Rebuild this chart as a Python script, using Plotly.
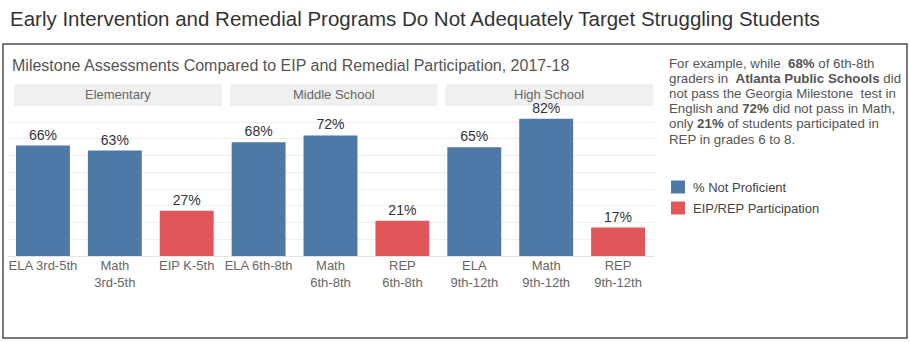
import plotly.graph_objects as go

# Categories (tick labels), values and series membership
tick_labels = [
    "ELA 3rd-5th", "Math<br>3rd-5th", "EIP K-5th",
    "ELA 6th-8th", "Math<br>6th-8th", "REP<br>6th-8th",
    "ELA<br>9th-12th", "Math<br>9th-12th", "REP<br>9th-12th",
]
values = [66, 63, 27, 68, 72, 21, 65, 82, 17]
is_participation = [False, False, True, False, False, True, False, False, True]

groups = ["Elementary", "Middle School", "High School"]
group_spans = [(0, 2), (3, 5), (6, 8)]

series_names = ["% Not Proficient", "EIP/REP Participation"]
series_colors = ["#4e79a7", "#e15759"]

note_lines = [
    "For example, while  <b>68%</b> of 6th-8th",
    "graders in  <b>Atlanta Public Schools</b> did",
    "not pass the Georgia Milestone  test in",
    "English and <b>72%</b> did not pass in Math,",
    "only <b>21%</b> of students participated in",
    "REP in grades 6 to 8.",
]

FONT = "Liberation Sans, Arial, sans-serif"
W, H = 910, 342
ML, MR, MT, MB = 7, 256, 107, 86
PW = W - ML - MR
PH = H - MT - MB


def px_x(px):
    return (px - ML) / PW


def px_y(py):
    return (H - MB - py) / PH


positions = list(range(len(tick_labels)))

fig = go.Figure()
for s, (name, color) in enumerate(zip(series_names, series_colors)):
    xs = [p for p, flag in zip(positions, is_participation) if flag == bool(s)]
    ys = [v for v, flag in zip(values, is_participation) if flag == bool(s)]
    fig.add_trace(go.Bar(
        x=xs, y=ys, name=name, width=0.75, showlegend=False,
        marker=dict(color=color, line=dict(width=0)),
        text=[f"{v}%" for v in ys], textposition="outside",
        textfont=dict(family=FONT, size=14, color="#333333"),
        cliponaxis=False,
    ))

shapes = []
annotations = []

# Panel header strips
for g, (a, b) in zip(groups, group_spans):
    x0, x1 = a - 0.4, b + 0.49
    shapes.append(dict(type="rect", xref="x", yref="paper",
                       x0=x0, x1=x1, y0=px_y(106), y1=px_y(84),
                       fillcolor="#f0f0f0", line=dict(width=0), layer="below"))
    annotations.append(dict(text=g, xref="x", yref="paper",
                            x=(x0 + x1) / 2, y=px_y(95), showarrow=False,
                            xanchor="center", yanchor="middle",
                            font=dict(family=FONT, size=13, color="#666666")))

# Outer frame
shapes.append(dict(type="rect", xref="paper", yref="paper",
                   x0=px_x(3), x1=px_x(907), y0=px_y(338), y1=px_y(44),
                   line=dict(color="#4d4d4d", width=1.5), layer="below"))

annotations.append(dict(
    text="Early Intervention and Remedial Programs Do Not Adequately Target Struggling Students",
    xref="paper", yref="paper", x=px_x(8), y=px_y(18), showarrow=False,
    xanchor="left", yanchor="middle",
    font=dict(family=FONT, size=20.5, color="#333333")))

annotations.append(dict(
    text="Milestone Assessments Compared to EIP and Remedial Participation, 2017-18",
    xref="paper", yref="paper", x=px_x(10), y=px_y(65), showarrow=False,
    xanchor="left", yanchor="middle",
    font=dict(family=FONT, size=16, color="#555555")))

# Side note, one line at a time for tight line spacing
for i, line in enumerate(note_lines):
    annotations.append(dict(
        text=line, xref="paper", yref="paper", x=px_x(667), y=px_y(63 + 15.2 * i),
        showarrow=False, xanchor="left", yanchor="middle", align="left",
        font=dict(family=FONT, size=13.3, color="#555555")))

# Colour key
for i, (name, color) in enumerate(zip(series_names, series_colors)):
    cy = 187 + 21 * i
    shapes.append(dict(type="rect", xref="paper", yref="paper",
                       x0=px_x(671), x1=px_x(685), y0=px_y(cy + 6.5), y1=px_y(cy - 6.5),
                       fillcolor=color, line=dict(width=0)))
    annotations.append(dict(
        text=name, xref="paper", yref="paper", x=px_x(691), y=px_y(cy),
        showarrow=False, xanchor="left", yanchor="middle",
        font=dict(family=FONT, size=13, color="#444444")))

fig.update_layout(
    width=W, height=H,
    margin=dict(l=ML, r=MR, t=MT, b=MB, pad=0),
    paper_bgcolor="white", plot_bgcolor="white",
    barmode="overlay",
    shapes=shapes, annotations=annotations,
    showlegend=False,
    xaxis=dict(tickmode="array", tickvals=positions, ticktext=tick_labels,
               range=[-0.5, 8.5], showgrid=False, zeroline=False,
               showline=False, ticks="",
               tickfont=dict(family=FONT, size=13, color="#666666")),
    yaxis=dict(range=[0, 89], dtick=10, showticklabels=False,
               showgrid=True, gridcolor="#eeeeee", gridwidth=1,
               zeroline=True, zerolinecolor="#e4e4e4", zerolinewidth=1,
               showline=False, ticks=""),
)

fig.write_html("out.html")
